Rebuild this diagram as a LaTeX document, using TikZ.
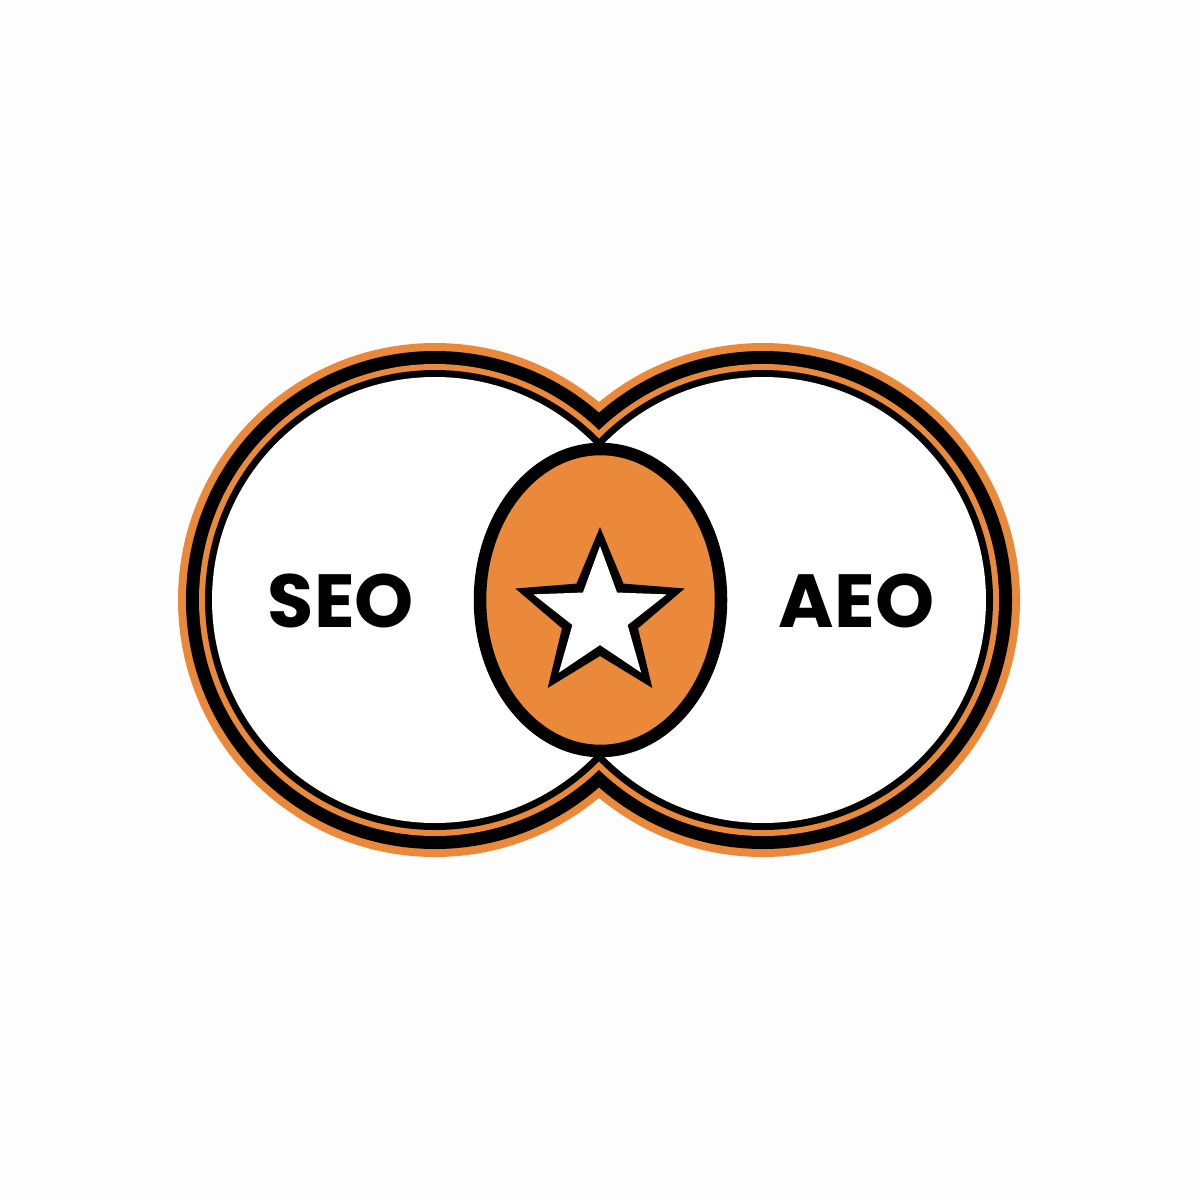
\documentclass[tikz,border=0pt]{standalone}
\usepackage{fontspec}
\newfontfamily\popfont{Poppins}
\definecolor{ringorange}{RGB}{234,137,58}
\definecolor{bg}{RGB}{253,253,253}
\begin{document}
\begin{tikzpicture}[x=0.01cm,y=-0.01cm,
  lbl/.style={inner sep=0pt, font=\popfont\bfseries\fontsize{21.4}{25}\selectfont, text=black}]
\fill[bg] (0,0) rectangle (1200,1200);
\useasboundingbox (0,0) rectangle (1200,1200);
\coordinate (cl) at (435,600);
\coordinate (cr) at (763,600);
% ring layers (union of two circles each)
\fill[ringorange] (cl) circle[radius=257] (cr) circle[radius=257];
\fill[black] (cl) circle[radius=249] (cr) circle[radius=249];
\fill[ringorange] (cl) circle[radius=236] (cr) circle[radius=236];
\fill[black] (cl) circle[radius=230] (cr) circle[radius=230];
\fill[white] (cl) circle[radius=223] (cr) circle[radius=223];
% central ellipse
\coordinate (mid) at (600.5,600);
\draw[fill=ringorange, draw=black, line width=3.56pt] (mid) ellipse[x radius=120.5, y radius=151];
% star
\begin{scope}[shift={(600,616)}]
\fill[black] (270:89) -- (306:40) -- (342:89) -- (18:40) -- (54:89) -- (90:40) -- (126:89) -- (162:40) -- (198:89) -- (234:40) -- cycle;
\fill[white] (270:70) -- (306:29) -- (342:70) -- (18:29) -- (54:70) -- (90:29) -- (126:70) -- (162:29) -- (198:70) -- (234:29) -- cycle;
\end{scope}
% labels
\node[lbl] (seo) at (341,601) {SEO};
\node[lbl] (aeo) at (856.5,601) {AEO};
\end{tikzpicture}
\end{document}
